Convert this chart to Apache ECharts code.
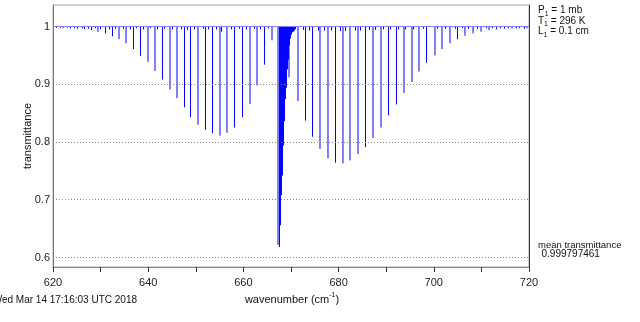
<!DOCTYPE html>
<html><head><meta charset="utf-8">
<script src="https://cdn.jsdelivr.net/npm/echarts@6/dist/echarts.min.js"></script>
<style>html,body{margin:0;padding:0;background:#fff}#c{width:640px;height:322px}</style>
</head><body><div id="c"></div>
<script>
// P-branch lines (wavenumber cm-1, transmittance at line centre)
const pBranchWave = [620.74,622.10,623.68,625.15,626.62,628.09,629.45,631.03,632.50,633.87,635.34,636.91,638.38,639.96,641.43,643.00,644.58,646.05,647.63,648.89,650.46,652.04,653.51,655.08,656.55,658.13,659.81,661.39,662.86,664.43,666.01];
const pBranchTrans = [0.9975,0.997,0.9965,0.996,0.9954,0.9936,0.9908,0.988,0.983,0.978,0.971,0.961,0.949,0.939,0.923,0.908,0.891,0.876,0.860,0.843,0.830,0.821,0.815,0.811,0.816,0.825,0.843,0.866,0.898,0.934,0.976];
// R-branch lines
const rBranchWave = [671.47,673.05,674.52,676.09,677.77,679.35,680.92,682.39,684.08,685.65,687.23,688.91,690.48,692.16,693.74,695.42,696.89,698.47,700.25,701.72,703.40,704.98,706.55,708.24,709.92,711.60,713.17,714.85,716.43,718.00,719.58];
const rBranchTrans = [0.871,0.837,0.809,0.788,0.772,0.764,0.763,0.768,0.779,0.791,0.807,0.825,0.846,0.865,0.885,0.904,0.922,0.937,0.950,0.961,0.971,0.978,0.984,0.988,0.991,0.9936,0.995,0.996,0.9965,0.997,0.997];
// isolated lines inside the Q-branch
const qEdgeWave = [667.27,669.58];
const qEdgeTrans = [0.622,0.912];
// Q-branch (dense, filled)
const qBranchWave = [667.58,667.79,668.00,668.21,668.42,668.63,668.84,669.05,669.26,669.47,669.68,669.89,670.11,670.32,670.53,670.74,670.95];
const qBranchTrans = [0.618,0.656,0.708,0.742,0.794,0.836,0.874,0.894,0.926,0.943,0.967,0.979,0.986,0.990,0.991,0.993,0.995];
// weak hot-band lines
const hotWave = [621.58,623.05,624.52,626.20,627.46,628.93,629.98,631.87,633.13,634.81,636.28,637.54,639.01,640.48,641.95,643.42,645.11,647.00,648.26,649.73,651.62,652.67,654.35,655.40,657.50,659.18,660.65,662.33,663.59,665.27,672.63,673.89,675.78,677.04,678.51,680.40,681.45,683.55,684.60,686.49,687.75,689.43,690.90,692.58,694.05,695.74,697.84,700.78,702.46,704.56,706.03,707.29,709.18,711.07,712.33,714.01,715.69,717.37,719.05];
const hotTrans = [0.998,0.998,0.997,0.997,0.996,0.997,0.995,0.995,0.996,0.996,0.995,0.997,0.995,0.997,0.995,0.996,0.995,0.995,0.994,0.995,0.996,0.995,0.995,0.991,0.995,0.996,0.995,0.996,0.995,0.997,0.994,0.993,0.993,0.993,0.993,0.992,0.992,0.993,0.993,0.994,0.994,0.995,0.995,0.995,0.995,0.995,0.996,0.996,0.996,0.996,0.997,0.996,0.996,0.997,0.997,0.997,0.997,0.997,0.996];
// continuum
const contWave = [620,720];
const contTrans = [1,1];
// axes
const xRange = [620,720];
const yRange = [0.5835,1.0372];
const yTickValues = [0.6,0.7,0.8,0.9,1];
const gridValues = [0.6,0.7,0.8,0.9];
const infoP = '1 mb', infoT = '296 K', infoL = '0.1 cm';
const meanTrans = '0.999797461';
const stamp = 'Wed Mar 14 17:16:03 UTC 2018';

const zip = (a,b) => a.map((v,i)=>[v,b[i]]);
const FONT = 'Liberation Sans, Arial, sans-serif';
const BLUE = '#0000ff';

function spike(params, api){
  const w = api.value(0), t = api.value(1);
  const a = api.coord([w,1]), b = api.coord([w,t]);
  return {type:'line', shape:{x1:a[0],y1:a[1],x2:b[0],y2:b[1]}, style:{stroke:BLUE,lineWidth:1}};
}
const Q_HALF = 0.105;
function qbar(params, api){
  const w = api.value(0), t = api.value(1);
  const a = api.coord([w-Q_HALF,1]), b = api.coord([w+Q_HALF,t]);
  return {type:'rect', shape:{x:a[0],y:a[1],width:b[0]-a[0],height:b[1]-a[1]}, style:{fill:BLUE}};
}
const spikeSeries = (name,data)=>({name, type:'custom', renderItem:spike, data, encode:{x:0,y:1}, clip:true, silent:true});

const chart = echarts.init(document.getElementById('c'), null, {renderer:'canvas'});
chart.setOption({
  animation:false,
  backgroundColor:'#fff',
  grid:{left:53,right:111,top:5,bottom:55,show:true,borderColor:'#aaa',borderWidth:1},
  xAxis:{type:'value',min:xRange[0],max:xRange[1],interval:10,
    axisLine:{show:true,lineStyle:{color:'#888',width:1}},
    axisTick:{show:true,length:5,inside:false,lineStyle:{color:'#333'}},
    axisLabel:{margin:10,fontSize:11,fontFamily:FONT,color:'#222',showMinLabel:true,showMaxLabel:true,
      formatter:v=> (Math.round(v)%20===0 ? String(Math.round(v)) : '')},
    splitLine:{show:false}},
  yAxis:[
    {type:'value',min:yRange[0],max:yRange[1],position:'left',
      axisLine:{show:true,lineStyle:{color:'#777'}},axisTick:{show:false},
      axisLabel:{margin:3,fontSize:11,fontFamily:FONT,color:'#222',customValues:yTickValues,
        formatter:v=>String(Math.round(v*10)/10)},
      splitLine:{show:false}},
    {type:'value',min:yRange[0],max:yRange[1],position:'right',
      axisLine:{show:true,lineStyle:{color:'#333'}},axisTick:{show:false},axisLabel:{show:false},splitLine:{show:false}}
  ],
  series:[
    {name:'continuum',type:'line',data:zip(contWave,contTrans),symbol:'none',lineStyle:{color:'#8080ff',width:1},silent:true,
      markLine:{silent:true,symbol:'none',label:{show:false},lineStyle:{type:[1,2],color:'#888',width:1},
        data:gridValues.map(v=>({yAxis:v}))}},
    spikeSeries('hot',zip(hotWave,hotTrans)),
    spikeSeries('P',zip(pBranchWave,pBranchTrans)),
    spikeSeries('R',zip(rBranchWave,rBranchTrans)),
    spikeSeries('Qedge',zip(qEdgeWave,qEdgeTrans)),
    {name:'Q',type:'custom',renderItem:qbar,data:zip(qBranchWave,qBranchTrans),encode:{x:0,y:1},clip:true,silent:true}
  ],
  graphic:[
    {type:'text',x:538,y:10.5,style:{text:'P{s|1} = '+infoP,fontSize:10,fontFamily:FONT,fill:'#111',verticalAlign:'middle',textVerticalAlign:'middle',
      rich:{s:{fontSize:7,fontFamily:FONT,verticalAlign:'bottom',lineHeight:14}}}},
    {type:'text',x:538,y:21,style:{text:'T{s|1} = '+infoT,fontSize:10,fontFamily:FONT,fill:'#111',verticalAlign:'middle',textVerticalAlign:'middle',
      rich:{s:{fontSize:7,fontFamily:FONT,verticalAlign:'bottom',lineHeight:14}}}},
    {type:'text',x:538,y:31.5,style:{text:'L{s|1} = '+infoL,fontSize:10,fontFamily:FONT,fill:'#111',verticalAlign:'middle',textVerticalAlign:'middle',
      rich:{s:{fontSize:7,fontFamily:FONT,verticalAlign:'bottom',lineHeight:14}}}},
    {type:'text',x:538,y:245,style:{text:'mean transmittance',fontSize:9.5,fontFamily:FONT,fill:'#111',verticalAlign:'middle',textVerticalAlign:'middle'}},
    {type:'text',x:541.5,y:254.5,style:{text:meanTrans,fontSize:10,fontFamily:FONT,fill:'#111',verticalAlign:'middle',textVerticalAlign:'middle'}},
    {type:'text',x:137,y:300,style:{text:stamp,fontSize:10,fontFamily:FONT,fill:'#111',align:'right',textAlign:'right',verticalAlign:'middle',textVerticalAlign:'middle'}},
    {type:'text',x:292,y:300,style:{text:'wavenumber (cm{p|-1})',fontSize:11,fontFamily:FONT,fill:'#111',align:'center',textAlign:'center',verticalAlign:'middle',textVerticalAlign:'middle',
      rich:{p:{fontSize:7,fontFamily:FONT,verticalAlign:'top',lineHeight:16}}}},
    {type:'text',x:28,y:136,rotation:Math.PI/2,style:{text:'transmittance',fontSize:11,fontFamily:FONT,fill:'#111',align:'center',textAlign:'center',verticalAlign:'middle',textVerticalAlign:'middle'}}
  ]
});
</script></body></html>
